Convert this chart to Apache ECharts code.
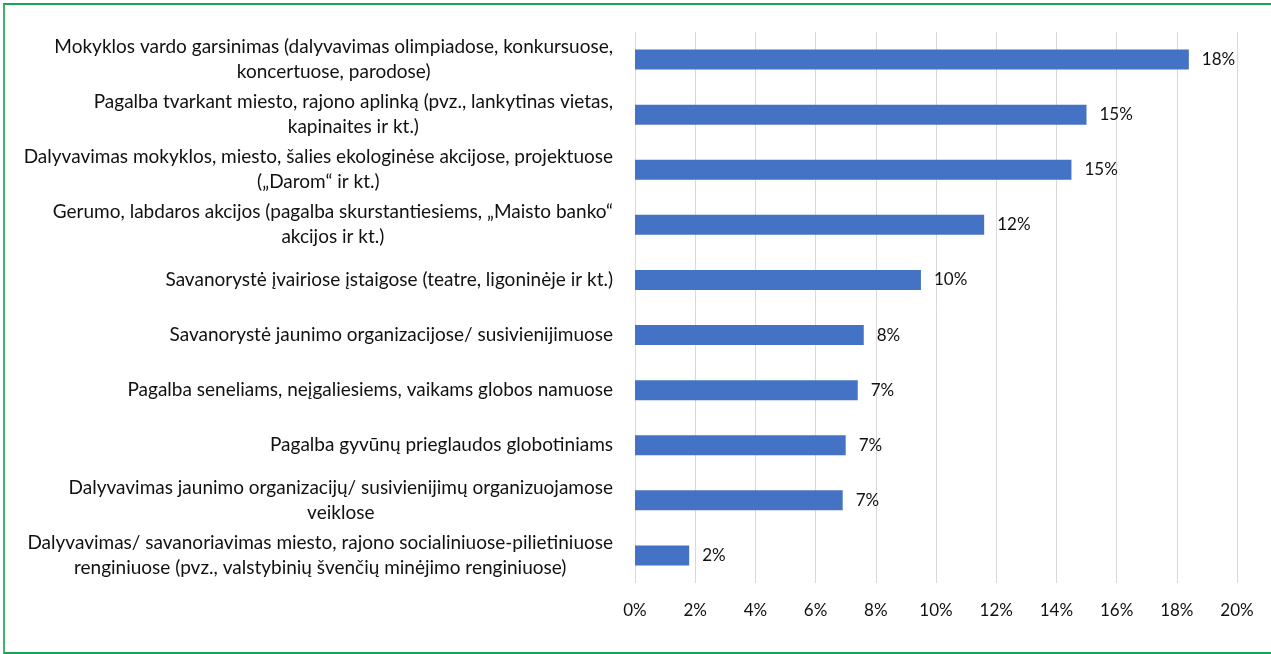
<!DOCTYPE html>
<html>
<head>
  <meta charset="utf-8">
  <title>ECharts</title>
  <script src="https://cdn.jsdelivr.net/npm/echarts@6/dist/echarts.min.js"></script>
  <style>
    html, body { margin: 0; padding: 0; background: #fff; }
    #frame {
      position: absolute; left: 3px; top: 3px; width: 1272px; height: 647px;
      border-left: 2px solid #3cb371; border-top: 2px solid #1aa355; border-bottom: 2px solid #1aa355;
    }
  </style>
</head>
<body>
<div id="frame"></div>
<div id="main" style="position:absolute;left:0;top:0;width: 1271px;height:654px;"></div>
<script type="text/javascript">
  // kategorijos (nuo viršaus į apačią), eilutės laužiamos su \n
  var categories = [
    'Mokyklos vardo garsinimas (dalyvavimas olimpiadose, konkursuose,\nkoncertuose, parodose)',
    'Pagalba tvarkant miesto, rajono aplinką (pvz., lankytinas vietas,\nkapinaites ir kt.)',
    'Dalyvavimas mokyklos, miesto, šalies ekologinėse akcijose, projektuose\n(„Darom“ ir kt.)',
    'Gerumo, labdaros akcijos (pagalba skurstantiesiems, „Maisto banko“\nakcijos ir kt.)',
    'Savanorystė įvairiose įstaigose (teatre, ligoninėje ir kt.)',
    'Savanorystė jaunimo organizacijose/ susivienijimuose',
    'Pagalba seneliams, neįgaliesiems, vaikams globos namuose',
    'Pagalba gyvūnų prieglaudos globotiniams',
    'Dalyvavimas jaunimo organizacijų/ susivienijimų organizuojamose\nveiklose',
    'Dalyvavimas/ savanoriavimas miesto, rajono socialiniuose-pilietiniuose\nrenginiuose (pvz., valstybinių švenčių minėjimo renginiuose)'
  ];
  // reikšmės procentais
  var values = [18.4, 15.0, 14.5, 11.6, 9.5, 7.6, 7.4, 7.0, 6.9, 1.8];
  var xTicks = [0, 2, 4, 6, 8, 10, 12, 14, 16, 18, 20];

  var font = 'Lato';
  var myChart = echarts.init(document.getElementById('main'));

  var option = {
    animation: false,
    grid: { left: 635, right: 34, top: 32, bottom: 71 },
    xAxis: {
      type: 'value',
      min: xTicks[0],
      max: xTicks[xTicks.length - 1],
      interval: xTicks[1] - xTicks[0],
      axisLine: { show: false },
      axisTick: { show: false },
      splitLine: { show: true, lineStyle: { color: '#d9d9d9', width: 1 } },
      axisLabel: {
        formatter: function (v) { return v + '%'; },
        color: '#111', fontFamily: font, fontSize: 17, margin: 19
      }
    },
    yAxis: {
      type: 'category',
      inverse: true,
      data: categories,
      axisLine: { show: false },
      axisTick: { show: false },
      axisLabel: {
        margin: 22,
        formatter: function (v) {
          return v.split('\n').map(function (l) { return '{c|' + l + '}'; }).join('\n');
        },
        rich: {
          c: { align: 'center', color: '#111', fontFamily: font, fontSize: 19, lineHeight: 25 }
        }
      }
    },
    series: [{
      type: 'bar',
      data: values,
      barWidth: 20,
      itemStyle: { color: '#4472c4' },
      label: {
        show: true,
        position: 'right',
        distance: 13,
        formatter: function (p) { return Math.round(p.value) + '%'; },
        color: '#111', fontFamily: font, fontSize: 17
      }
    }]
  };

  myChart.setOption(option);
</script>
</body>
</html>
